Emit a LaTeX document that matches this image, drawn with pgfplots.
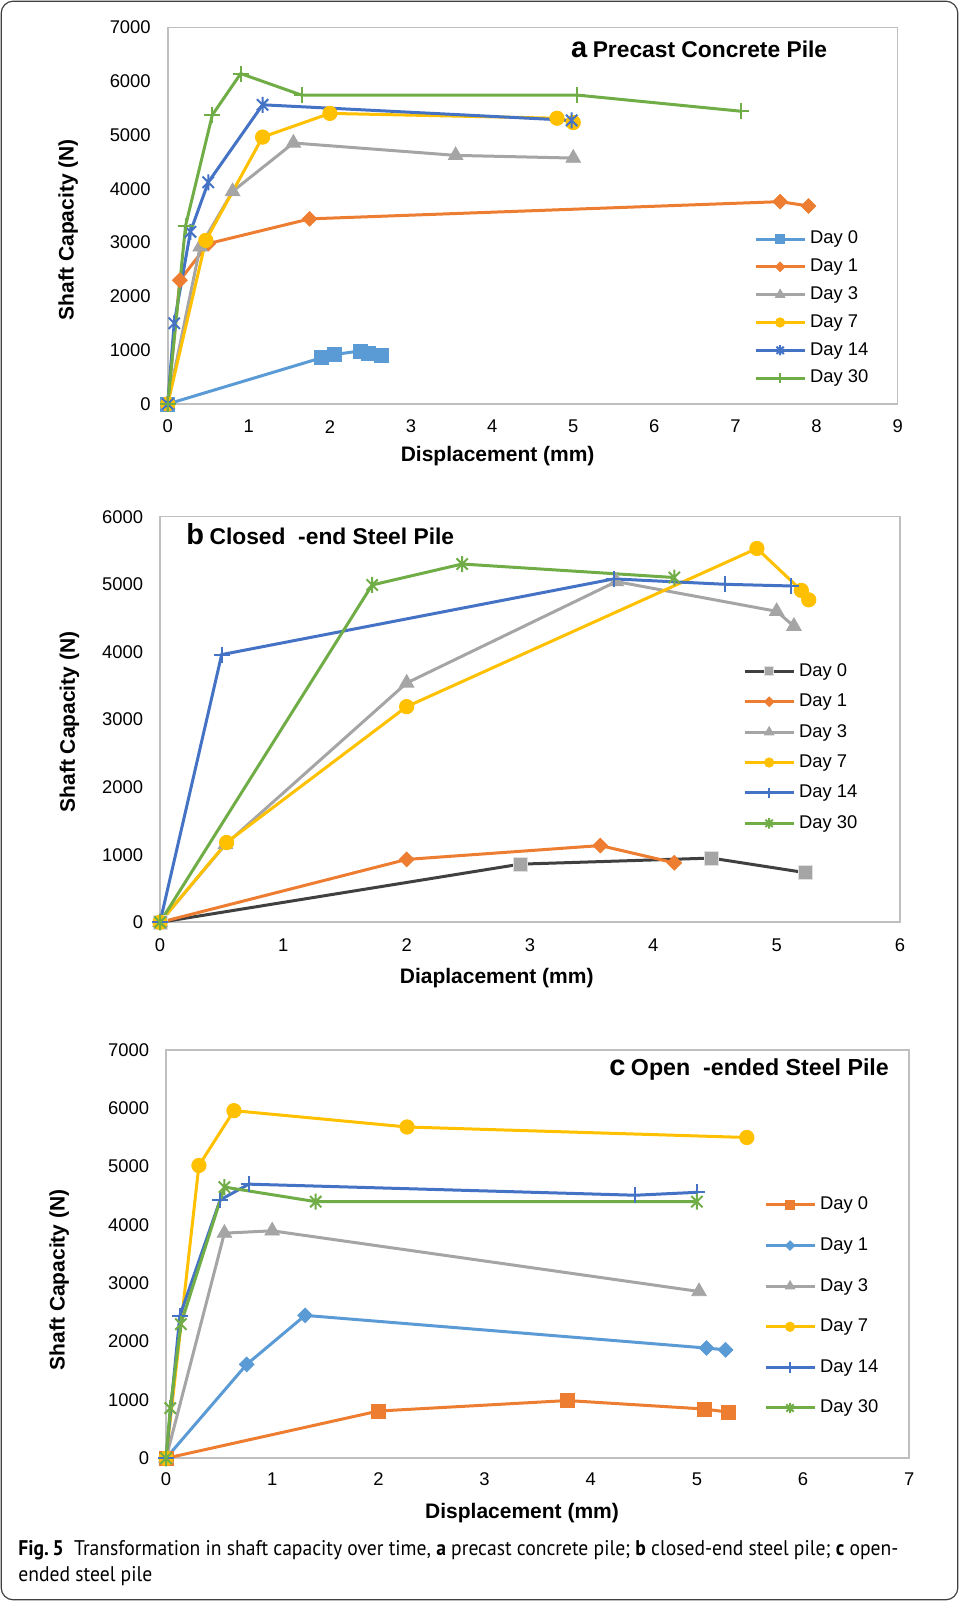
\documentclass[border=0pt]{standalone}
\usepackage{pgfplots}
\pgfplotsset{compat=1.18}
\usepackage{fontspec}
\setmainfont{Liberation Sans}
\newfontfamily\capfont[FakeStretch=0.925]{PT Sans}

\definecolor{cBlue}{HTML}{5B9BD5}
\definecolor{cOrange}{HTML}{ED7D31}
\definecolor{cGray}{HTML}{A5A5A5}
\definecolor{cGold}{HTML}{FFC000}
\definecolor{cDBlue}{HTML}{4472C4}
\definecolor{cGreen}{HTML}{70AD47}
\definecolor{cDark}{HTML}{404040}
\definecolor{cFrame}{HTML}{BFBFBF}

\pgfdeclareplotmark{xstar}{%
 \pgfpathmoveto{\pgfqpoint{0pt}{\pgfplotmarksize}}\pgfpathlineto{\pgfqpoint{0pt}{-\pgfplotmarksize}}%
 \pgfpathmoveto{\pgfqpoint{.707\pgfplotmarksize}{.707\pgfplotmarksize}}\pgfpathlineto{\pgfqpoint{-.707\pgfplotmarksize}{-.707\pgfplotmarksize}}%
 \pgfpathmoveto{\pgfqpoint{-.707\pgfplotmarksize}{.707\pgfplotmarksize}}\pgfpathlineto{\pgfqpoint{.707\pgfplotmarksize}{-.707\pgfplotmarksize}}%
 \pgfusepathqstroke}

\pgfplotsset{
 chart/.style={
  scale only axis, clip=false,
  axis line style={draw=cFrame, line width=0.8pt},
  major tick length=0pt, tick style={draw=none},
  tick label style={font=\fontsize{9.2}{11}\selectfont},
  /pgf/number format/assume math mode=true,
  /pgf/number format/1000 sep={},
  yticklabel style={anchor=east, inner sep=0pt, xshift=-8.3pt},
  xticklabel style={anchor=center, inner sep=0pt, yshift=-11.3pt},
  label style={font=\fontsize{10.5}{12}\selectfont\bfseries},
  xlabel style={anchor=center},
  ylabel style={anchor=center},
  legend cell align=left,
  legend image code/.code={\draw[mark repeat=2,mark phase=2] plot coordinates {(0pt,0pt) (12.25pt,0pt) (24.5pt,0pt)};},
  every legend image post/.append style={every mark/.append style={scale=0.65}},
  every axis plot/.append style={line width=1.5pt},
 },
 lg/.style 2 args={legend style={draw=none, fill=none, anchor=north west,
   font=\fontsize{9.2}{11}\selectfont, row sep=#2,
   nodes={inner sep=0pt, text height=6.8pt, text depth=1.9pt, anchor=west},
   column sep=2pt, at={#1}}},
 pSq/.style={color=#1, mark=square*, mark size=3.5pt, mark options={line width=0.4pt}},
 pDia/.style={color=#1, mark=square*, mark size=2.6pt, mark options={rotate=45, line width=0.4pt}},
 pTri/.style={color=#1, mark=triangle*, mark size=4.2pt, mark options={line width=0.4pt}},
 pCirc/.style={color=#1, mark=*, mark size=3.6pt, mark options={line width=0.4pt}},
 pStar/.style={color=#1, mark=xstar, mark size=4pt, mark options={line width=1pt}},
 pPlus/.style={color=#1, mark=+, mark size=4pt, mark options={line width=1pt}},
}

\begin{document}
\begin{tikzpicture}
\useasboundingbox (0,0) rectangle (479.5pt,800.5pt);
\draw[line width=0.6pt, black!75, rounded corners=6pt] (0.6pt,0.6pt) rectangle (478.9pt,799.9pt);

% ---------------- a ----------------
\begin{axis}[chart, at={(83.85pt,598.5pt)}, anchor=south west,
  width=365pt, height=188.35pt,
  xmin=0, xmax=9, ymin=0, ymax=7000, xtick distance=1, ytick distance=1000,
  xlabel={Displacement (mm)}, ylabel={Shaft Capacity (N)},
  xlabel style={at={([yshift=-26pt]axis description cs:0.452,0)}},
  ylabel style={at={([xshift=-49.8pt]axis description cs:0,0.463)}},
  lg={(axis description cs:0.7946,0.4726)}{5.2pt}]
\addplot[pSq=cBlue] coordinates {(0,0)(1.9,860)(2.06,920)(2.37,985)(2.47,945)(2.63,900)};
\addplot[pDia=cOrange] coordinates {(0,0)(0.15,2300)(0.5,2980)(1.75,3440)(7.55,3760)(7.9,3680)};
\addplot[pTri=cGray] coordinates {(0,0)(0.4,2920)(0.8,3950)(1.55,4850)(3.55,4620)(5.0,4570)};
\addplot[pCirc=cGold] coordinates {(0,0)(0.47,3040)(1.17,4960)(2.0,5400)(4.8,5310)(5.0,5230)};
\addplot[pStar=cDBlue] coordinates {(0,0)(0.08,1500)(0.28,3200)(0.5,4120)(1.17,5560)(4.98,5270)};
\addplot[pPlus=cGreen] coordinates {(0,0)(0.22,3310)(0.55,5370)(0.9,6140)(1.65,5740)(5.05,5740)(7.07,5440)};
\legend{Day 0,Day 1,Day 3,Day 7,Day 14,Day 30}
\node[anchor=center] at (axis description cs:0.728,0.942)
  {\bfseries{\fontsize{14.5}{15}\selectfont a} {\fontsize{11.4}{13}\selectfont Precast Concrete Pile}};
\end{axis}

% ---------------- b ----------------
\begin{axis}[chart, at={(80pt,339.35pt)}, anchor=south west,
  width=370pt, height=202.8pt,
  xmin=0, xmax=6, ymin=0, ymax=6000, xtick distance=1, ytick distance=1000,
  xlabel={Diaplacement (mm)}, ylabel={Shaft Capacity (N)},
  xlabel style={at={([yshift=-27.8pt]axis description cs:0.455,0)}},
  ylabel style={at={([xshift=-45.3pt]axis description cs:0,0.494)}},
  lg={(axis description cs:0.7794,0.651)}{6.5pt}]
\addplot[color=cDark, mark=square*, mark size=3.5pt, mark options={fill=cGray, draw=black!12, line width=0.5pt}] coordinates {(0,0)(2.92,860)(4.47,950)(5.23,735)};
\addplot[pDia=cOrange] coordinates {(0,0)(2.0,930)(3.57,1135)(4.17,880)};
\addplot[pTri=cGray] coordinates {(0,0)(0.53,1150)(2.0,3540)(3.7,5040)(5.0,4600)(5.14,4380)};
\addplot[pCirc=cGold] coordinates {(0,0)(0.54,1180)(2.0,3190)(4.84,5530)(5.2,4910)(5.26,4770)};
\addplot[pPlus=cDBlue] coordinates {(0,0)(0.5,3960)(3.68,5080)(4.58,5000)(5.12,4975)};
\addplot[pStar=cGreen] coordinates {(0,0)(1.72,4990)(2.45,5300)(4.17,5100)};
\legend{Day 0,Day 1,Day 3,Day 7,Day 14,Day 30}
\node[anchor=west] at (axis description cs:0.026,0.957)
  {\bfseries{\fontsize{14.5}{15}\selectfont b} {\fontsize{11.4}{13}\selectfont Closed\ \ -end Steel Pile}};
\end{axis}

% ---------------- c ----------------
\begin{axis}[chart, at={(83pt,71.35pt)}, anchor=south west,
  width=371.65pt, height=204.15pt,
  xmin=0, xmax=7, ymin=0, ymax=7000, xtick distance=1, ytick distance=1000,
  xticklabel style={yshift=0.8pt},
  xlabel={Displacement (mm)}, ylabel={Shaft Capacity (N)},
  xlabel style={at={([yshift=-27.3pt]axis description cs:0.479,0)}},
  ylabel style={at={([xshift=-53.4pt]axis description cs:0,0.437)}},
  lg={(axis description cs:0.796,0.6525)}{11.6pt}]
\addplot[pSq=cOrange] coordinates {(0,0)(2.0,810)(3.78,990)(5.07,845)(5.3,790)};
\addplot[pDia=cBlue] coordinates {(0,0)(0.76,1610)(1.31,2450)(5.09,1890)(5.27,1860)};
\addplot[pTri=cGray] coordinates {(0,0)(0.55,3860)(1.0,3900)(5.02,2860)};
\addplot[pCirc=cGold] coordinates {(0,0)(0.31,5020)(0.64,5960)(2.27,5680)(5.47,5500)};
\addplot[pPlus=cDBlue] coordinates {(0,0)(0.13,2440)(0.51,4430)(0.78,4700)(4.42,4510)(5.0,4560)};
\addplot[pStar=cGreen] coordinates {(0,0)(0.04,860)(0.14,2300)(0.55,4650)(1.41,4400)(5.0,4400)};
\legend{Day 0,Day 1,Day 3,Day 7,Day 14,Day 30}
\node[anchor=east] at (axis description cs:0.982,0.951)
  {\bfseries{\fontsize{14.5}{15}\selectfont c} {\fontsize{11.6}{13}\selectfont Open\ \ -ended Steel Pile}};
\end{axis}

% caption
\node[anchor=base west, inner sep=0pt] at (9pt,23pt) {\capfont\fontsize{10.6}{12}\selectfont
 {\bfseries Fig.\,5}\enspace Transformation in shaft capacity over time, {\bfseries a} precast concrete pile; {\bfseries b} closed-end steel pile; {\bfseries c} open-};
\node[anchor=base west, inner sep=0pt] at (9pt,9.5pt) {\capfont\fontsize{10.6}{12}\selectfont ended steel pile};
\end{tikzpicture}
\end{document}
